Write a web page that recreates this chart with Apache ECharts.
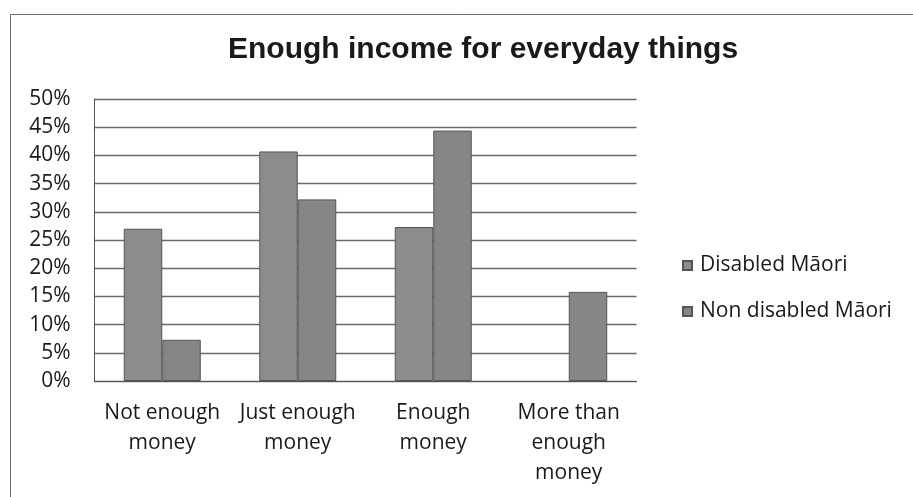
<!DOCTYPE html>
<html>
<head>
<meta charset="utf-8">
<script src="https://cdn.jsdelivr.net/npm/echarts@6/dist/echarts.min.js"></script>
<style>
  html, body { margin: 0; padding: 0; background: #fff; }
  #chart { width: 913px; height: 497px; }
</style>
</head>
<body>
<div id="chart"></div>
<script>
// Share of respondents by how well their income covers everyday needs
const categories = ['Not enough\nmoney', 'Just enough\nmoney', 'Enough\nmoney', 'More than\nenough\nmoney'];
const disabledMaori = [27.0, 40.7, 27.3, null];
const nonDisabledMaori = [7.3, 32.2, 44.4, 15.8];
const seriesNames = ['Disabled Māori', 'Non disabled Māori'];
const titleText = 'Enough income for everyday things';

const labelFont = '"Open Sans", "Noto Sans", sans-serif';

const chart = echarts.init(document.getElementById('chart'), null, { renderer: 'canvas' });

chart.setOption({
  backgroundColor: '#ffffff',
  animation: false,
  graphic: [{
    type: 'rect',
    shape: { x: 10.5, y: 14.5, width: 920, height: 500 },
    style: { fill: 'none', stroke: '#6e6e6e', lineWidth: 1 },
    silent: true
  }],
  title: {
    text: titleText,
    left: 223,
    top: 30,
    textStyle: {
      fontFamily: '"Liberation Sans", Arial, sans-serif',
      fontWeight: 'bold',
      fontSize: 30,
      color: '#1a1a1a'
    }
  },
  legend: {
    orient: 'vertical',
    left: 677,
    top: 250,
    itemWidth: 9,
    itemHeight: 9,
    itemGap: 25,
    icon: 'rect',
    textStyle: { fontFamily: labelFont, fontSize: 21, color: '#1a1a1a', padding: [0, 0, 0, 3] },
    data: seriesNames
  },
  grid: { left: 94.5, right: 276.5, top: 99, bottom: 116 },
  xAxis: {
    type: 'category',
    data: categories,
    axisLine: { show: true, lineStyle: { color: '#555', width: 1 } },
    axisTick: { show: false },
    axisLabel: {
      interval: 0,
      margin: 17,
      lineHeight: 30,
      fontFamily: labelFont,
      fontSize: 21,
      color: '#1a1a1a'
    }
  },
  yAxis: {
    type: 'value',
    min: 0,
    max: 50,
    interval: 5,
    axisLine: { show: true, lineStyle: { color: '#555', width: 1 } },
    axisTick: { show: false },
    axisLabel: {
      formatter: '{value}%',
      margin: 24,
      fontFamily: labelFont,
      fontSize: 21,
      color: '#1a1a1a'
    },
    splitLine: { show: true, lineStyle: { color: '#6a6a6a', width: 1.3 } }
  },
  series: [
    {
      name: seriesNames[0],
      type: 'bar',
      data: disabledMaori,
      barWidth: 38.5,
      barGap: '0%',
      itemStyle: { color: '#8c8c8c', borderColor: '#555555', borderWidth: 1 }
    },
    {
      name: seriesNames[1],
      type: 'bar',
      data: nonDisabledMaori,
      barWidth: 38.5,
      barGap: '0%',
      itemStyle: { color: '#868686', borderColor: '#555555', borderWidth: 1 }
    }
  ]
});
</script>
</body>
</html>
